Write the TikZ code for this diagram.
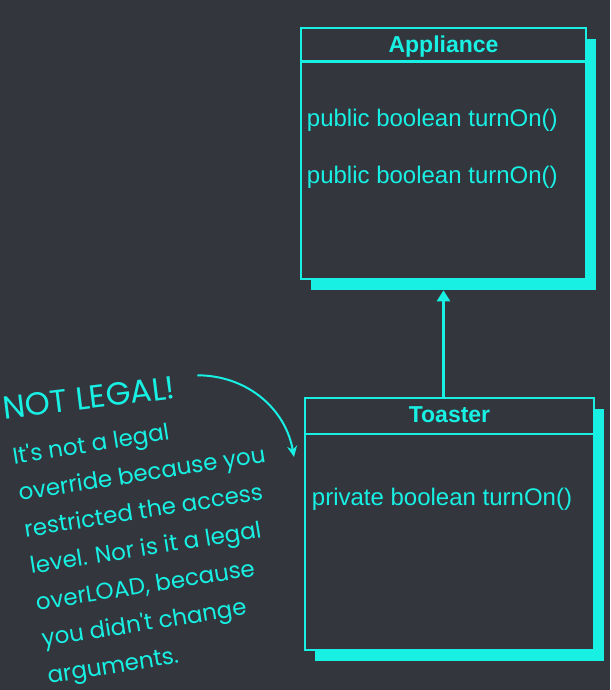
\documentclass[tikz,border=0pt]{standalone}
\usepackage{fontspec}
\setmainfont{Liberation Sans}
\newfontfamily\handfont{Poppins}
\usepackage{xcolor}
\usepackage{tikz}
\usetikzlibrary{arrows.meta,shadows}
\definecolor{board}{RGB}{51,54,61}
\definecolor{ink}{RGB}{24,240,228}

\begin{document}
\begin{tikzpicture}[x=1pt,y=1pt,font=\fontsize{24}{24}\selectfont,
  classbox/.style={draw=ink,line width=2.5pt,fill=board,inner sep=0pt,
    drop shadow={shadow xshift=10pt,shadow yshift=-11pt,fill=ink,opacity=1}},
  classname/.style={text=ink,font=\bfseries\fontsize{23}{23}\selectfont},
  method/.style={anchor=west,inner sep=0pt,text=ink},
  hand/.style={text=ink,inner sep=0pt,font=\handfont\fontsize{23}{37}\selectfont}]
  \fill[board] (0,0) rectangle (610,-690);
  \useasboundingbox (0,0) rectangle (610,-690);
  % classes
  \node[classbox,minimum width=285pt,minimum height=251pt] (appliance) at (443.5,-153.5) {};
  \draw[ink,line width=2.5pt] ([yshift=-35pt]appliance.north west) -- ([yshift=-35pt]appliance.north east);
  \node[classname] (appliancename) at ([yshift=-20pt]appliance.north) {Appliance};
  \node[method] (turnon) at ([xshift=7pt,yshift=-94pt]appliance.north west) {public boolean turnOn()};
  \node[method] (turnontwo) at ([xshift=7pt,yshift=-151pt]appliance.north west) {public boolean turnOn()};
  \node[classbox,minimum width=289pt,minimum height=252pt] (toaster) at (449.5,-524) {};
  \draw[ink,line width=2.5pt] ([yshift=-37pt]toaster.north west) -- ([yshift=-37pt]toaster.north east);
  \node[classname] (toastername) at ([yshift=-18pt]toaster.north) {Toaster};
  \node[method] (privateturnon) at ([xshift=8pt,yshift=-103pt]toaster.north west) {private boolean turnOn()};
  % inheritance
  \draw[ink,line width=2.5pt,-{Triangle[width=13pt,length=11pt]},shorten >=10pt] (toaster.north -| appliance.south) -- (appliance.south);
  % note
  \node[hand,anchor=south west,rotate=7,font=\handfont\fontsize{32}{32}\selectfont] (notlegal) at (4,-420) {NOT LEGAL!};
  \node[hand,anchor=north west,rotate=9,align=left] (note) at (11,-446) {It's not a legal\\override because you\\restricted the access\\level. Nor is it a legal\\overLOAD, because\\you didn't change\\arguments.};
  \coordinate (tip) at (294,-457);
  \draw[ink,line width=2pt,-{Stealth[length=11pt,width=10pt]}] ([xshift=22pt,yshift=12pt]notlegal.east) to[out=0,in=100] (tip);
\end{tikzpicture}
\end{document}
